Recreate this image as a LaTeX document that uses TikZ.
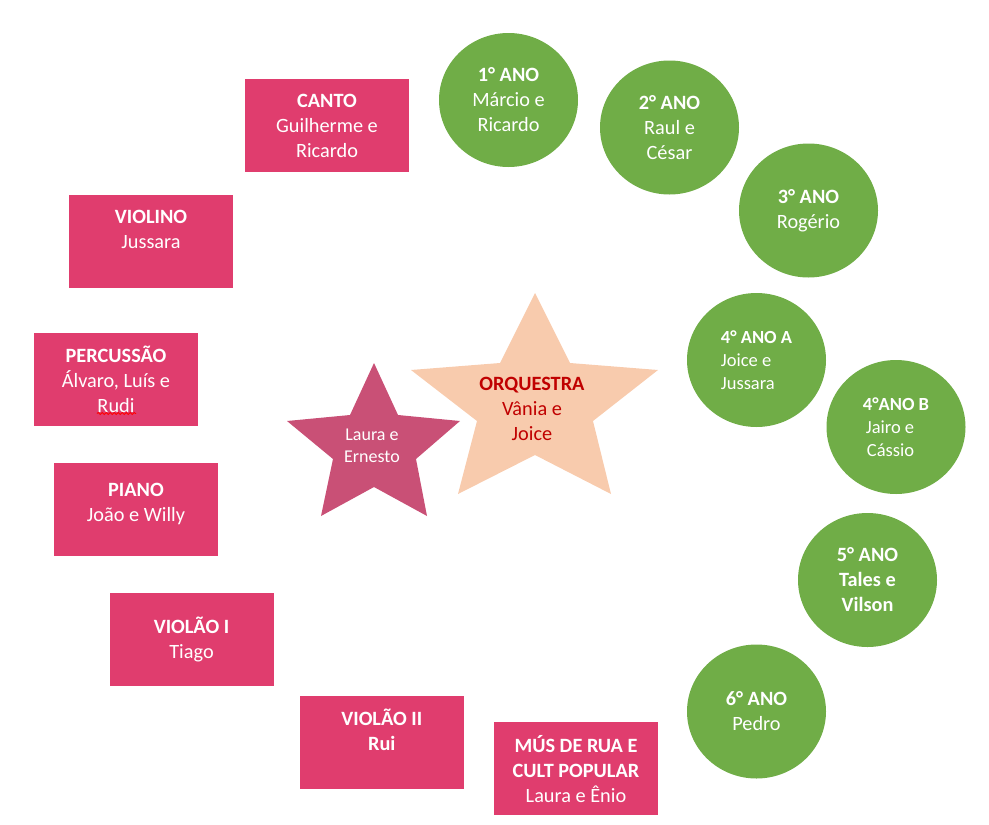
\documentclass[tikz,border=0pt]{standalone}
\usepackage{fontspec}
\setmainfont{Carlito}
\usepackage{tikz}
\usetikzlibrary{shapes, decorations.pathmorphing}
\definecolor{boxpink}{RGB}{224,61,110}
\definecolor{anogreen}{RGB}{112,173,71}
\definecolor{peach}{RGB}{248,203,173}
\definecolor{starpink}{RGB}{201,80,118}
\definecolor{darkred}{RGB}{192,0,0}

\begin{document}
\begin{tikzpicture}[x=1pt, y=-1pt,
	box/.style={rectangle, fill=boxpink, text=white, minimum width=164pt, minimum height=93pt, inner sep=0pt, align=center, font=\fontsize{20.3}{25}\selectfont},
	ano/.style={ellipse, fill=anogreen, text=white, minimum width=139pt, minimum height=134pt, inner sep=0pt, align=center, font=\fontsize{20.3}{25}\selectfont},
	smallano/.style={ano, align=left, font=\fontsize{18.5}{23.3}\selectfont}]
	\useasboundingbox (0,0) rectangle (989,825);
	\fill[peach] (535,293) -- (570,363) -- (658,370) -- (593,421) -- (611,494) -- (535,455) -- (458,494) -- (477,421) -- (411,370) -- (500,363) -- cycle;
	\fill[starpink] (374,363) -- (398,415) -- (460,421) -- (416,459) -- (427,516) -- (374,487) -- (321,516) -- (333,459) -- (287,421) -- (350,415) -- cycle;
	\node[align=center, text=darkred, font=\fontsize{20.3}{25}\selectfont] (orquestra) at (532,409) {\textbf{ORQUESTRA}\\Vânia e\\Joice};
	\node[align=center, text=white, font=\fontsize{18}{21.7}\selectfont] (lauraernesto) at (372,446) {Laura e\\Ernesto};
	\node[box] (canto) at (327,125.5) {\textbf{CANTO}\\Guilherme e\\Ricardo};
	\node[box] (violino) at (151,241.5) {\textbf{VIOLINO}\\Jussara\\\mbox{}};
	\node[box] (percussao) at (116,379.5) {\textbf{PERCUSSÃO}\\Álvaro, Luís e\\Rudi};
	\node[box] (piano) at (136,509) {\textbf{PIANO}\\João e Willy\\[-11pt]\mbox{}};
	\node[box] (violaoI) at (191.5,639) {\textbf{VIOLÃO I}\\Tiago};
	\node[box] (violaoII) at (381.8,742.7) {\textbf{VIOLÃO II}\\\textbf{Rui}\\\mbox{}};
	\node[box] (musrua) at (576,768.7) {\textbf{MÚS DE RUA E}\\\textbf{CULT POPULAR}\\Laura e Ênio};
	\draw[red, line width=0.9pt, decorate, decoration={snake, amplitude=1pt, segment length=4pt}] (97,413.5) -- (136,413.5);
	\node[ano] (ano1) at (508.5,100) {\textbf{1° ANO}\\Márcio e\\Ricardo};
	\node[ano] (ano2) at (669.5,127.5) {\textbf{2° ANO}\\Raul e\\César};
	\node[ano] (ano3) at (808.5,210.5) {\textbf{3° ANO}\\Rogério};
	\node[smallano] (ano4a) at (756.5,360) {\textbf{4° ANO A}\\Joice e\\Jussara};
	\node[smallano] (ano4b) at (896,427) {\textbf{4°ANO B}\\\hspace{3pt}Jairo e\\\hspace{4pt}Cássio};
	\node[ano] (ano5) at (867.5,580) {\textbf{5° ANO}\\\textbf{Tales e}\\\textbf{Vilson}};
	\node[ano] (ano6) at (756.5,711.5) {\textbf{6° ANO}\\Pedro};
\end{tikzpicture}
\end{document}
